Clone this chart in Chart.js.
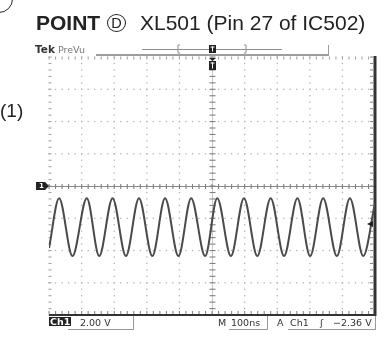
<!DOCTYPE html>
<html>
<head>
<meta charset="utf-8">
<script src="https://cdn.jsdelivr.net/npm/chart.js@4.4.1/dist/chart.umd.min.js"></script>
<style>
  html, body { margin: 0; padding: 0; background: #fff; }
  #page { position: relative; width: 391px; height: 340px; overflow: hidden; font-family: 'Liberation Sans', Arial, sans-serif; color: #222; }
  #scope { position: absolute; left: 0; top: 0; width: 391px; height: 340px; }
  .t { position: absolute; white-space: nowrap; line-height: 1; }
  .title { font-size: 21px; top: 12px; }
  .circ { position: absolute; box-sizing: border-box; border: 1.4px solid #222; border-radius: 50%; }
  .dlabel { left: 107px; top: 14px; width: 19px; height: 18px; font-size: 14.5px; text-align: center; line-height: 16px; }
  .ro { font-family: 'DejaVu Sans', sans-serif; font-size: 9.5px; color: #333; }
  .box { position: absolute; border-right: 1px solid #999; border-bottom: 1px solid #999; }
</style>
</head>
<body>
<div id="page">
  <div id="scope"><canvas id="scopeChart"></canvas></div>

  <div class="circ" style="left:-15px; top:-15px; width:28px; height:28px;"></div>
  <div class="t title" style="left:36px; font-weight:bold;">POINT</div>
  <div class="t circ dlabel">D</div>
  <div class="t title" style="left:140px;">XL501 (Pin 27 of IC502)</div>
  <div class="t" style="left:0; top:101px; font-size:19px;">(1)</div>

  <div class="t" style="left:35px; top:44px; font-family:'DejaVu Sans',sans-serif; font-weight:bold; font-size:10.5px; color:#333;">Tek</div>
  <div class="t" style="left:58px; top:45px; font-family:'DejaVu Sans',sans-serif; font-size:9.5px; color:#777;">PreVu</div>

  <div class="t ro" id="chLabel" style="left:49px; top:317px; background:#222; color:#fff; font-weight:bold; padding:0 1px; height:9px; line-height:9px;"></div>
  <div class="box" style="left:68px; top:316px; width:65px; height:13px;"></div>
  <div class="t ro" id="voltsLabel" style="left:80px; top:318px;"></div>
  <div class="t ro" style="left:218px; top:318px;">M</div>
  <div class="box" style="left:229px; top:316px; width:38px; height:13px;"></div>
  <div class="t ro" id="timeLabel" style="left:231px; top:318px;"></div>
  <div class="t ro" style="left:277px; top:318px;">A</div>
  <div class="box" style="left:288px; top:316px; width:87px; height:13px;"></div>
  <div class="t ro" id="trigSource" style="left:290px; top:318px;"></div>
  <div class="t ro" style="left:320px; top:318px;">&#x0283;</div>
  <div class="t ro" id="trigLevel" style="left:333px; top:318px;"></div>
</div>

<script>
// Scope settings
const channelName = 'Ch1';
const voltsPerDiv = 2;
const nsPerDiv = 100;
const divsX = 10;
const divsY = 8;
const triggerTimeNs = 500;
const triggerLevelV = -2.36;

// Ch1 trace: sample times (ns from left edge) and voltages at the turning points
const sampleTimes = [0, 31, 72, 116, 154, 195, 236, 276, 317, 356, 397, 436, 479,
  516, 558, 598, 639, 680, 721, 762, 801, 841, 883, 923, 964, 1000];
const sampleVolts = [-3.85, -0.76, -4.34, -0.76, -4.34, -0.76, -4.34, -0.76, -4.34,
  -0.76, -4.34, -0.76, -4.34, -0.76, -4.34, -0.76, -4.34, -0.76, -4.34, -0.76, -4.34,
  -0.76, -4.34, -0.76, -4.34, -1.05];

document.getElementById('chLabel').textContent = channelName;
document.getElementById('voltsLabel').textContent = voltsPerDiv.toFixed(2) + ' V';
document.getElementById('timeLabel').textContent = nsPerDiv + 'ns';
document.getElementById('trigSource').textContent = channelName;
document.getElementById('trigLevel').textContent =
  triggerLevelV.toFixed(2).replace('-', '\u2212') + ' V';

const halfV = voltsPerDiv * divsY / 2;
const minorX = nsPerDiv / 5;
const minorY = voltsPerDiv / 5;

const graticule = {
  id: 'graticule',
  beforeDatasetsDraw(chart) {
    const { ctx, chartArea: a, scales: { x, y } } = chart;
    ctx.save();

    // dotted division lines
    ctx.fillStyle = '#b2b2b2';
    for (let i = 1; i < divsX; i++) {
      if (i === divsX / 2) continue;
      const xx = x.getPixelForValue(i * nsPerDiv);
      for (let v = -halfV; v <= halfV + 1e-6; v += minorY) {
        ctx.fillRect(xx - 0.6, y.getPixelForValue(v) - 0.6, 1.3, 1.3);
      }
    }
    for (let j = 1; j < divsY; j++) {
      if (j === divsY / 2) continue;
      const yy = y.getPixelForValue(-halfV + j * voltsPerDiv);
      for (let t = 0; t <= divsX * nsPerDiv + 1e-6; t += minorX) {
        ctx.fillRect(x.getPixelForValue(t) - 0.6, yy - 0.6, 1.3, 1.3);
      }
    }

    // left and top edges: dots with short ticks
    ctx.fillStyle = '#a4a4a4';
    for (let v = -halfV; v <= halfV + 1e-6; v += minorY) {
      ctx.fillRect(a.left - 0.5, y.getPixelForValue(v) - 0.5, 3, 1.1);
    }
    for (let t = 0; t <= divsX * nsPerDiv + 1e-6; t += minorX) {
      ctx.fillRect(x.getPixelForValue(t) - 0.5, a.top - 0.5, 1.1, 3);
    }

    // centre crosshair
    const cx = x.getPixelForValue(triggerTimeNs);
    const cy = y.getPixelForValue(0);
    ctx.strokeStyle = '#8a8a8a';
    ctx.lineWidth = 1;
    ctx.beginPath();
    ctx.moveTo(a.left, cy + 0.5); ctx.lineTo(a.right, cy + 0.5);
    ctx.stroke();
    ctx.strokeStyle = '#c8c8c8';
    ctx.beginPath();
    ctx.moveTo(cx + 0.5, a.top); ctx.lineTo(cx + 0.5, a.bottom);
    ctx.stroke();
    ctx.fillStyle = '#808080';
    for (let t = 0; t <= divsX * nsPerDiv + 1e-6; t += minorX) {
      ctx.fillRect(x.getPixelForValue(t) - 0.5, cy - 2, 1.1, 5);
    }
    for (let v = -halfV; v <= halfV + 1e-6; v += minorY) {
      ctx.fillRect(cx - 2.5, y.getPixelForValue(v) - 0.5, 6, 1.1);
    }

    // right and bottom edges: ticks then heavy frame
    ctx.fillStyle = '#8a8a8a';
    for (let v = -halfV; v <= halfV + 1e-6; v += minorY) {
      ctx.fillRect(a.right - 5, y.getPixelForValue(v) - 0.5, 3, 1.1);
    }
    for (let t = 0; t <= divsX * nsPerDiv + 1e-6; t += minorX) {
      ctx.fillRect(x.getPixelForValue(t) - 0.5, a.bottom - 4, 1.1, 3);
    }
    ctx.fillStyle = '#333';
    ctx.fillRect(a.right - 1.5, a.top - 1, 3, a.bottom - a.top + 2);
    ctx.fillRect(a.left, a.bottom - 1, a.right - a.left + 1, 2);

    // record bar above the screen
    ctx.fillStyle = '#9d9d9d';
    ctx.fillRect(a.left + 47, a.top - 3, a.right - a.left - 93, 2);
    ctx.fillRect(a.right - 47, a.top - 12, 1, 10);
    ctx.fillStyle = '#8c8c8c';
    ctx.fillRect(a.left + 93, a.top - 8, 140, 1);
    ctx.strokeStyle = '#8c8c8c';
    ctx.beginPath();
    ctx.moveTo(cx - 32, a.top - 12); ctx.lineTo(cx - 34, a.top - 12); ctx.lineTo(cx - 34, a.top - 4); ctx.lineTo(cx - 32, a.top - 4);
    ctx.moveTo(cx + 32, a.top - 12); ctx.lineTo(cx + 34, a.top - 12); ctx.lineTo(cx + 34, a.top - 4); ctx.lineTo(cx + 32, a.top - 4);
    ctx.stroke();
    ctx.restore();
  },
  afterDraw(chart) {
    const { ctx, chartArea: a, scales: { x, y } } = chart;
    const cx = x.getPixelForValue(triggerTimeNs);
    const cy = y.getPixelForValue(0);
    ctx.save();

    // trigger position markers
    const tMark = (top, h) => {
      ctx.fillStyle = '#222';
      ctx.fillRect(cx - 3, top, 7, h);
      ctx.fillStyle = '#fff';
      ctx.fillRect(cx - 1.5, top + 1.5, 4, 1);
      ctx.fillRect(cx, top + 1.5, 1, h - 3);
    };
    tMark(a.top - 12, 8);
    ctx.fillStyle = '#222';
    ctx.beginPath();
    ctx.moveTo(cx - 3, a.top + 1); ctx.lineTo(cx + 4, a.top + 1); ctx.lineTo(cx + 0.5, a.top + 4);
    ctx.fill();
    tMark(a.top + 4, 9);

    // channel ground marker
    ctx.fillStyle = '#222';
    ctx.beginPath();
    ctx.moveTo(a.left - 13, cy - 4);
    ctx.lineTo(a.left - 4, cy - 4);
    ctx.lineTo(a.left, cy);
    ctx.lineTo(a.left - 4, cy + 4);
    ctx.lineTo(a.left - 13, cy + 4);
    ctx.closePath();
    ctx.fill();
    ctx.fillStyle = '#fff';
    ctx.font = 'bold 7px "DejaVu Sans"';
    ctx.textAlign = 'center';
    ctx.textBaseline = 'middle';
    ctx.fillText('1', a.left - 7.5, cy + 0.5);

    // trigger level marker
    const ty = y.getPixelForValue(triggerLevelV);
    ctx.fillStyle = '#222';
    ctx.beginPath();
    ctx.moveTo(a.right - 2, ty - 3);
    ctx.lineTo(a.right - 2, ty + 3);
    ctx.lineTo(a.right - 8, ty);
    ctx.closePath();
    ctx.fill();
    ctx.restore();
  }
};

new Chart(document.getElementById('scopeChart'), {
  type: 'line',
  data: {
    datasets: [{
      data: sampleTimes.map((t, i) => ({ x: t, y: sampleVolts[i] })),
      borderColor: '#4a4a4a',
      borderWidth: 2,
      pointRadius: 0,
      cubicInterpolationMode: 'monotone'
    }]
  },
  options: {
    responsive: true,
    maintainAspectRatio: false,
    animation: false,
    layout: { padding: { left: 49, right: 16, top: 57, bottom: 25 } },
    scales: {
      x: { type: 'linear', display: false, min: 0, max: divsX * nsPerDiv },
      y: { display: false, min: -halfV, max: halfV }
    },
    plugins: {
      legend: { display: false },
      tooltip: { enabled: false }
    }
  },
  plugins: [graticule]
});
</script>
</body>
</html>
